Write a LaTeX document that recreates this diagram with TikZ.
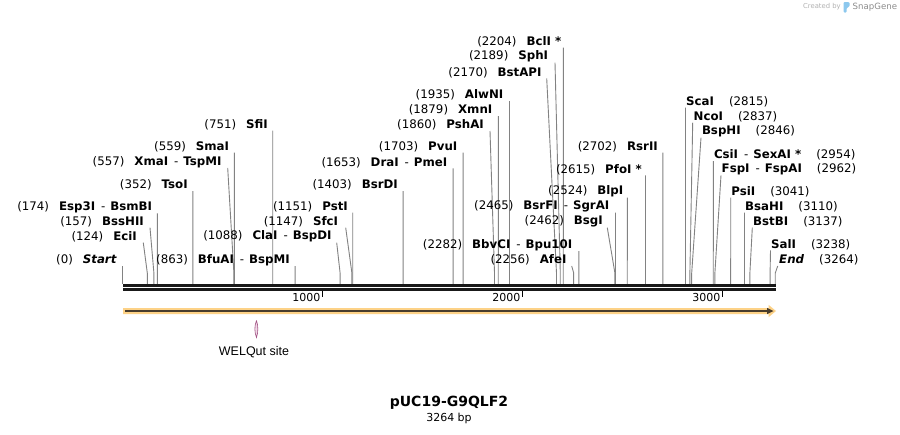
\documentclass[tikz,border=0pt]{standalone}
\usepackage{fontspec}
\setmainfont{DejaVu Sans}
\newfontfamily\welfont{Liberation Sans}
\definecolor{bandorange}{RGB}{253,210,135}
\definecolor{banddark}{RGB}{72,60,44}
\definecolor{leadgray}{RGB}{130,130,130}
\definecolor{lensline}{RGB}{160,80,130}
\definecolor{lensfill}{RGB}{240,215,230}
\definecolor{logoblue}{RGB}{140,200,238}
\newcommand\nm[1]{\textbf{#1}}
\newcommand\nmi[1]{\textbf{\textit{#1}}}
\newcommand\dd{\hspace{6pt}-\hspace{5pt}}
\tikzset{
  lab/.style={inner sep=0pt, font=\fontsize{11.8}{14}\selectfont, text=black},
  leader/.style={draw=leadgray, line width=0.9pt},
  rulerline/.style={draw=black!90, line width=2.6pt},
  tick/.style={draw=black, line width=1.3pt},
  ticklab/.style={inner sep=0pt, font=\fontsize{11}{13}\selectfont, anchor=east}
}
% left label: name, right edge x, y, number, text, leader start x
\newcommand\LLab[6]{%
  \node[lab, anchor=east] (#1) at (#2,#3) {(#4)\hspace{10pt}#5};
  \coordinate (#1-s) at (#6,#3+6);
  \coordinate (#1-b) at ({122.5+0.2*#4},273);
  \coordinate (#1-r) at ({122.5+0.2*#4},284);
  \draw[leader] (#1-s) -- (#1-b) -- (#1-r);
}
% right label: name, left edge x, y, number, text, leader start x
\newcommand\RLab[6]{%
  \node[lab, anchor=west] (#1) at (#2,#3) {#5\hspace{15pt}(#4)};
  \coordinate (#1-s) at (#6,#3+6);
  \coordinate (#1-b) at ({122.5+0.2*#4},273);
  \coordinate (#1-r) at ({122.5+0.2*#4},284);
  \draw[leader] (#1-s) -- (#1-b) -- (#1-r);
}
\begin{document}
\begin{tikzpicture}[x=1pt,y=-1pt]
\fill[white] (0,0) rectangle (900,434);
\useasboundingbox (0,0) rectangle (900,434);

% created by
\node[inner sep=0pt, text=black!30, font=\fontsize{6.8}{8}\selectfont, anchor=west] (cb) at (803,7) {Created by};
\fill[logoblue, rounded corners=1pt] (843.5,2) -- (849,2) -- (850,4) -- (849,7) -- (846.5,8) -- (846.5,12.5) -- (843.5,12.5) -- cycle;
\node[inner sep=0pt, text=black!45, font=\fontsize{8.6}{10}\selectfont, anchor=west] (sg) at (852.5,7) {SnapGene};

% leaders and labels
\LLab{sfi}{268}{124.7}{751}{\nm{SfiI}}{272.7}
\LLab{sma}{229.3}{146.7}{559}{\nm{SmaI}}{234.3}
\LLab{xma}{221.7}{162}{557}{\nm{XmaI}\dd\nm{TspMI}}{227.7}
\LLab{tso}{187.9}{185}{352}{\nm{TsoI}}{192.9}
\LLab{esp}{152.3}{207.3}{174}{\nm{Esp3I}\dd\nm{BsmBI}}{157.3}
\LLab{bss}{144}{221.7}{157}{\nm{BssHII}}{150}
\LLab{eci}{137}{236.7}{124}{\nm{EciI}}{143.3}
\LLab{start}{117}{260}{0}{\nmi{Start}}{122.5}
\LLab{bfu}{290}{260}{863}{\nm{BfuAI}\dd\nm{BspMI}}{295.1}
\LLab{cla}{331.7}{236.7}{1088}{\nm{ClaI}\dd\nm{BspDI}}{336.7}
\LLab{sfc}{338.3}{221.7}{1147}{\nm{SfcI}}{345.7}
\LLab{pst}{348}{206.7}{1151}{\nm{PstI}}{352.7}
\LLab{bsrd}{398}{185}{1403}{\nm{BsrDI}}{403.1}
\LLab{dra}{447.5}{162.3}{1653}{\nm{DraI}\dd\nm{PmeI}}{453.1}
\LLab{pvu}{457.5}{146.7}{1703}{\nm{PvuI}}{463.1}
\LLab{psh}{484}{125}{1860}{\nm{PshAI}}{490}
\LLab{xmn}{492.5}{110}{1879}{\nm{XmnI}}{498.3}
\LLab{alw}{503.5}{95}{1935}{\nm{AlwNI}}{509.5}
\LLab{bstap}{541.7}{72.3}{2170}{\nm{BstAPI}}{546.7}
\LLab{sph}{548.3}{56.7}{2189}{\nm{SphI}}{555}
\LLab{bcl}{561.5}{41.7}{2204}{\nm{BclI *}}{563.3}
\LLab{bbv}{572.5}{245}{2282}{\nm{BbvCI}\dd\nm{Bpu10I}}{578.9}
\LLab{afe}{566.7}{260}{2256}{\nm{AfeI}}{571.7}
\LLab{bsrf}{609.5}{206.7}{2465}{\nm{BsrFI}\dd\nm{SgrAI}}{615.5}
\LLab{bsg}{603}{221.7}{2462}{\nm{BsgI}}{607.3}
\LLab{blp}{623.5}{191.7}{2524}{\nm{BlpI}}{627.3}
\LLab{pfo}{642}{169.3}{2615}{\nm{PfoI *}}{645.5}
\LLab{rsr}{658}{146.7}{2702}{\nm{RsrII}}{662.9}

\RLab{sca}{686}{101.7}{2815}{\nm{ScaI}}{685.5}
\RLab{nco}{693.5}{116.7}{2837}{\nm{NcoI}}{692.7}
\RLab{bsph}{701.8}{131.7}{2846}{\nm{BspHI}}{701}
\RLab{csi}{713.8}{155}{2954}{\nm{CsiI}\dd\nm{SexAI *}}{713.3}
\RLab{fsp}{721.5}{169.3}{2962}{\nm{FspI}\dd\nm{FspAI}}{721}
\RLab{psi}{731.2}{191.7}{3041}{\nm{PsiI}}{730.7}
\RLab{bsah}{745}{206.7}{3110}{\nm{BsaHI}}{744.5}
\RLab{bstb}{753}{221.7}{3137}{\nm{BstBI}}{752.3}
\RLab{sal}{771}{244.3}{3238}{\nm{SalI}}{770.5}
\RLab{end}{779}{260}{3264}{\nmi{End}}{777.7}

% ruler
\coordinate (r0) at (123,285.4);
\coordinate (r1) at (775.8,285.4);
\coordinate (s0) at (123,289.4);
\coordinate (s1) at (775.8,289.4);
\draw[rulerline] (r0) -- (r1);
\draw[rulerline] (s0) -- (s1);
\foreach \k/\t in {1/1000,2/2000,3/3000}{
  \coordinate (t\k a) at ({122.5+200*\k},291);
  \coordinate (t\k b) at ({122.5+200*\k},297);
  \draw[tick] (t\k a) -- (t\k b);
  \node[ticklab] (tl\k) at ({120.5+200*\k},297) {\t};
}

% feature arrow
\coordinate (fa) at (123,311);
\coordinate (fb) at (776,311);
\fill[bandorange] (123,308) -- (768.5,308) -- (768.5,304.8) -- (776,311) -- (768.5,317.2) -- (768.5,314) -- (123,314) -- cycle;
\draw[banddark, line width=2pt] (125,311) -- (768,311);
\fill[banddark] (767,307.8) -- (773.5,311) -- (767,314.2) -- cycle;

% WELQut site
\filldraw[fill=lensfill, draw=lensline, line width=0.6pt] (256.5,320.5) .. controls (254.3,326) and (254.3,332) .. (256.5,337.5) .. controls (258.3,332) and (258.3,326) .. (256.5,320.5);
\node[inner sep=0pt, font=\welfont\fontsize{12.5}{14}\selectfont] (wel) at (254,352.5) {WELQut site};

% title
\node[inner sep=0pt, font=\fontsize{14}{16}\selectfont\bfseries] (title) at (449,403) {pUC19-G9QLF2};
\node[inner sep=0pt, font=\fontsize{11}{13}\selectfont] (bp) at (449,418.5) {3264 bp};
\end{tikzpicture}
\end{document}
